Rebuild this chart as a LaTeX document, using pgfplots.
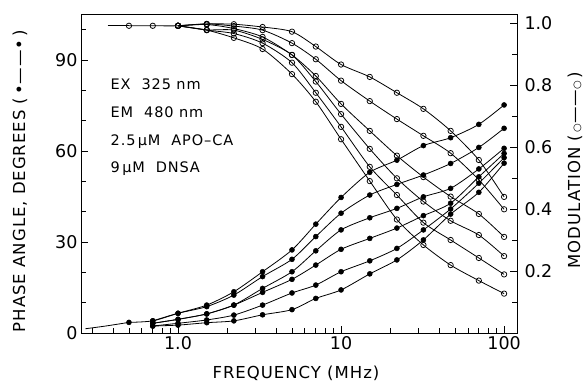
\documentclass[border=0pt]{standalone}
\usepackage{pgfplots}
\pgfplotsset{compat=1.18}
\usepackage{fontspec}
\setmainfont{DejaVu Sans}
\newfontfamily\lbl[LetterSpace=6]{DejaVu Sans}
\pgfplotsset{
  myph/.style={black, line width=0.8pt, smooth, tension=0.45, mark=*, mark size=2.5pt, mark options={fill=black, line width=0.5pt}},
  mymod/.style={black, line width=0.8pt, smooth, tension=0.45, mark=o, mark size=2.7pt, mark options={fill=white, line width=0.75pt}},
}
\begin{document}
\begin{tikzpicture}
\begin{axis}[
  at={(0pt,0pt)}, anchor=south west,
  width=436pt, height=319pt, scale only axis,
  xmode=log, xmin=0.254, xmax=120,
  tick align=inside,
  major tick length=7pt, minor tick length=5pt,
  every tick/.style={black, line width=0.8pt},
  axis line style={line width=0.9pt},
  tick label style={font=\fontsize{17.5}{18}\selectfont},
  ymin=0, ymax=105.2,
  xtick={1,10,100}, xticklabels={1.0,10,100},
  minor xtick={0.3,0.4,0.5,0.6,0.7,0.8,0.9,2,3,4,5,6,7,8,9,20,30,40,50,60,70,80,90},
  xtick pos=left, ytick pos=left,
  ytick={0,30,60,90}, yticklabels={0,30,60,90},
  minor ytick={10,20,40,50,70,80,100},
  xlabel={FREQUENCY (MHz)},
  ylabel={PHASE ANGLE, DEGREES (\,•——•\,)},
  xlabel style={at={(axis description cs:0.493,-0.125)}, anchor=center, font=\lbl\fontsize{16.5}{17}\selectfont},
  ylabel style={at={(axis description cs:-0.14,0.476)}, anchor=center, font=\lbl\fontsize{16.5}{17}\selectfont},
]
\addplot[black, line width=0.8pt, smooth, no marks] coordinates {(0.27,1.4) (0.36,2.3) (0.5,3.5)};
\addplot[myph] coordinates {(0.5,3.5) (0.7,4.0) (1.0,6.5) (1.5,9.2) (2.2,13.6) (3.3,20.2) (5,27.4) (7,35.9) (10,44.7) (15,53.0) (22,57.0) (32,61.8) (47,64.4) (70,68.8) (100,75.2)};
\addplot[myph] coordinates {(0.7,4.0) (1.0,6.5) (1.5,8.7) (2.2,12.5) (3.3,18.6) (5,24.3) (7,31.8) (10,39.5) (15,45.5) (22,49.0) (32,52.1) (47,55.9) (70,61.2) (100,67.5)};
\addplot[myph] coordinates {(0.7,3.2) (1.0,4.5) (1.5,6.3) (2.2,9.2) (3.3,14.7) (5,20.2) (7,27.1) (10,34.0) (15,38.0) (22,41.1) (32,44.9) (47,47.7) (70,54.1) (100,60.9)};
\addplot[myph] coordinates {(0.7,3.2) (1.0,4.5) (1.5,6.3) (2.2,9.2) (3.3,13.4) (5,17.7) (7,22.4) (10,27.6) (15,31.2) (22,34.6) (32,38.7) (47,42.8) (70,51.5) (100,59.2)};
\addplot[myph] coordinates {(0.7,2.3) (1.0,3.2) (1.5,4.3) (2.2,5.9) (3.3,9.2) (5,13.2) (7,15.8) (10,20.2) (15,23.8) (22,27.9) (32,34.0) (47,40.9) (70,49.4) (100,57.8)};
\addplot[myph] coordinates {(0.7,2.3) (1.0,2.6) (1.5,3.4) (2.2,4.0) (3.3,6.0) (5,7.7) (7,11.4) (10,14.2) (15,19.5) (22,24.1) (32,30.7) (47,39.2) (70,46.4) (100,56.0)};
\node[anchor=base west, font=\lbl\fontsize{14.5}{15}\selectfont] at (rel axis cs:0.06,0.762) {EX\ \ 325 nm};
\node[anchor=base west, font=\lbl\fontsize{14.5}{15}\selectfont] at (rel axis cs:0.06,0.674) {EM\ \ 480 nm};
\node[anchor=base west, font=\lbl\fontsize{14.5}{15}\selectfont] at (rel axis cs:0.06,0.589) {2.5\,μM\ \ APO–CA};
\node[anchor=base west, font=\lbl\fontsize{14.5}{15}\selectfont] at (rel axis cs:0.06,0.502) {9\,μM\ \ DNSA};
\end{axis}
\begin{axis}[
  at={(0pt,0pt)}, anchor=south west,
  width=436pt, height=319pt, scale only axis,
  xmode=log, xmin=0.254, xmax=120,
  tick align=inside,
  major tick length=7pt, minor tick length=5pt,
  every tick/.style={black, line width=0.8pt},
  axis line style={line width=0.9pt},
  tick label style={font=\fontsize{17.5}{18}\selectfont},
  ymin=0, ymax=1.029,
  axis y line*=right, axis x line=none,
  ytick={0.2,0.4,0.6,0.8,1.0}, yticklabels={0.2,0.4,0.6,0.8,1.0},
  minor ytick={0.1,0.3,0.5,0.7,0.9},
  yticklabel style={xshift=4pt},
  ylabel={MODULATION (\,{\fontsize{10}{10}\selectfont ○}——{\fontsize{10}{10}\selectfont ○}\,)},
  ylabel style={at={(axis description cs:1.133,0.511)}, anchor=center, rotate=0, font=\lbl\fontsize{16.5}{17}\selectfont},
]
\addplot[black, line width=0.8pt, no marks] coordinates {(0.37,0.991) (0.5,0.991)};
\addplot[mymod] coordinates {(0.5,0.991) (0.7,0.991) (1.0,0.991) (1.5,0.997) (2.2,0.996) (3.3,0.987) (5,0.972) (7,0.924) (10,0.866) (15,0.826) (22,0.775) (32,0.723) (47,0.652) (70,0.558) (100,0.439)};
\addplot[mymod] coordinates {(1.0,0.991) (1.5,0.997) (2.2,0.990) (3.3,0.977) (5,0.935) (7,0.883) (10,0.814) (15,0.748) (22,0.690) (32,0.636) (47,0.580) (70,0.494) (100,0.399)};
\addplot[mymod] coordinates {(1.0,0.991) (1.5,0.995) (2.2,0.982) (3.3,0.955) (5,0.897) (7,0.829) (10,0.739) (15,0.652) (22,0.572) (32,0.503) (47,0.440) (70,0.384) (100,0.310)};
\addplot[mymod] coordinates {(1.0,0.991) (1.5,0.978) (2.2,0.977) (3.3,0.947) (5,0.897) (7,0.811) (10,0.706) (15,0.594) (22,0.499) (32,0.424) (47,0.362) (70,0.316) (100,0.248)};
\addplot[mymod] coordinates {(1.0,0.991) (1.5,0.977) (2.2,0.966) (3.3,0.935) (5,0.872) (7,0.775) (10,0.665) (15,0.536) (22,0.445) (32,0.356) (47,0.300) (70,0.242) (100,0.189)};
\addplot[mymod] coordinates {(1.0,0.991) (1.5,0.977) (2.2,0.952) (3.3,0.916) (5,0.835) (7,0.746) (10,0.625) (15,0.490) (22,0.366) (32,0.284) (47,0.219) (70,0.169) (100,0.127)};
\end{axis}
\path[use as bounding box] (-81pt,-49pt) rectangle (506pt,333pt);
\end{tikzpicture}
\end{document}
